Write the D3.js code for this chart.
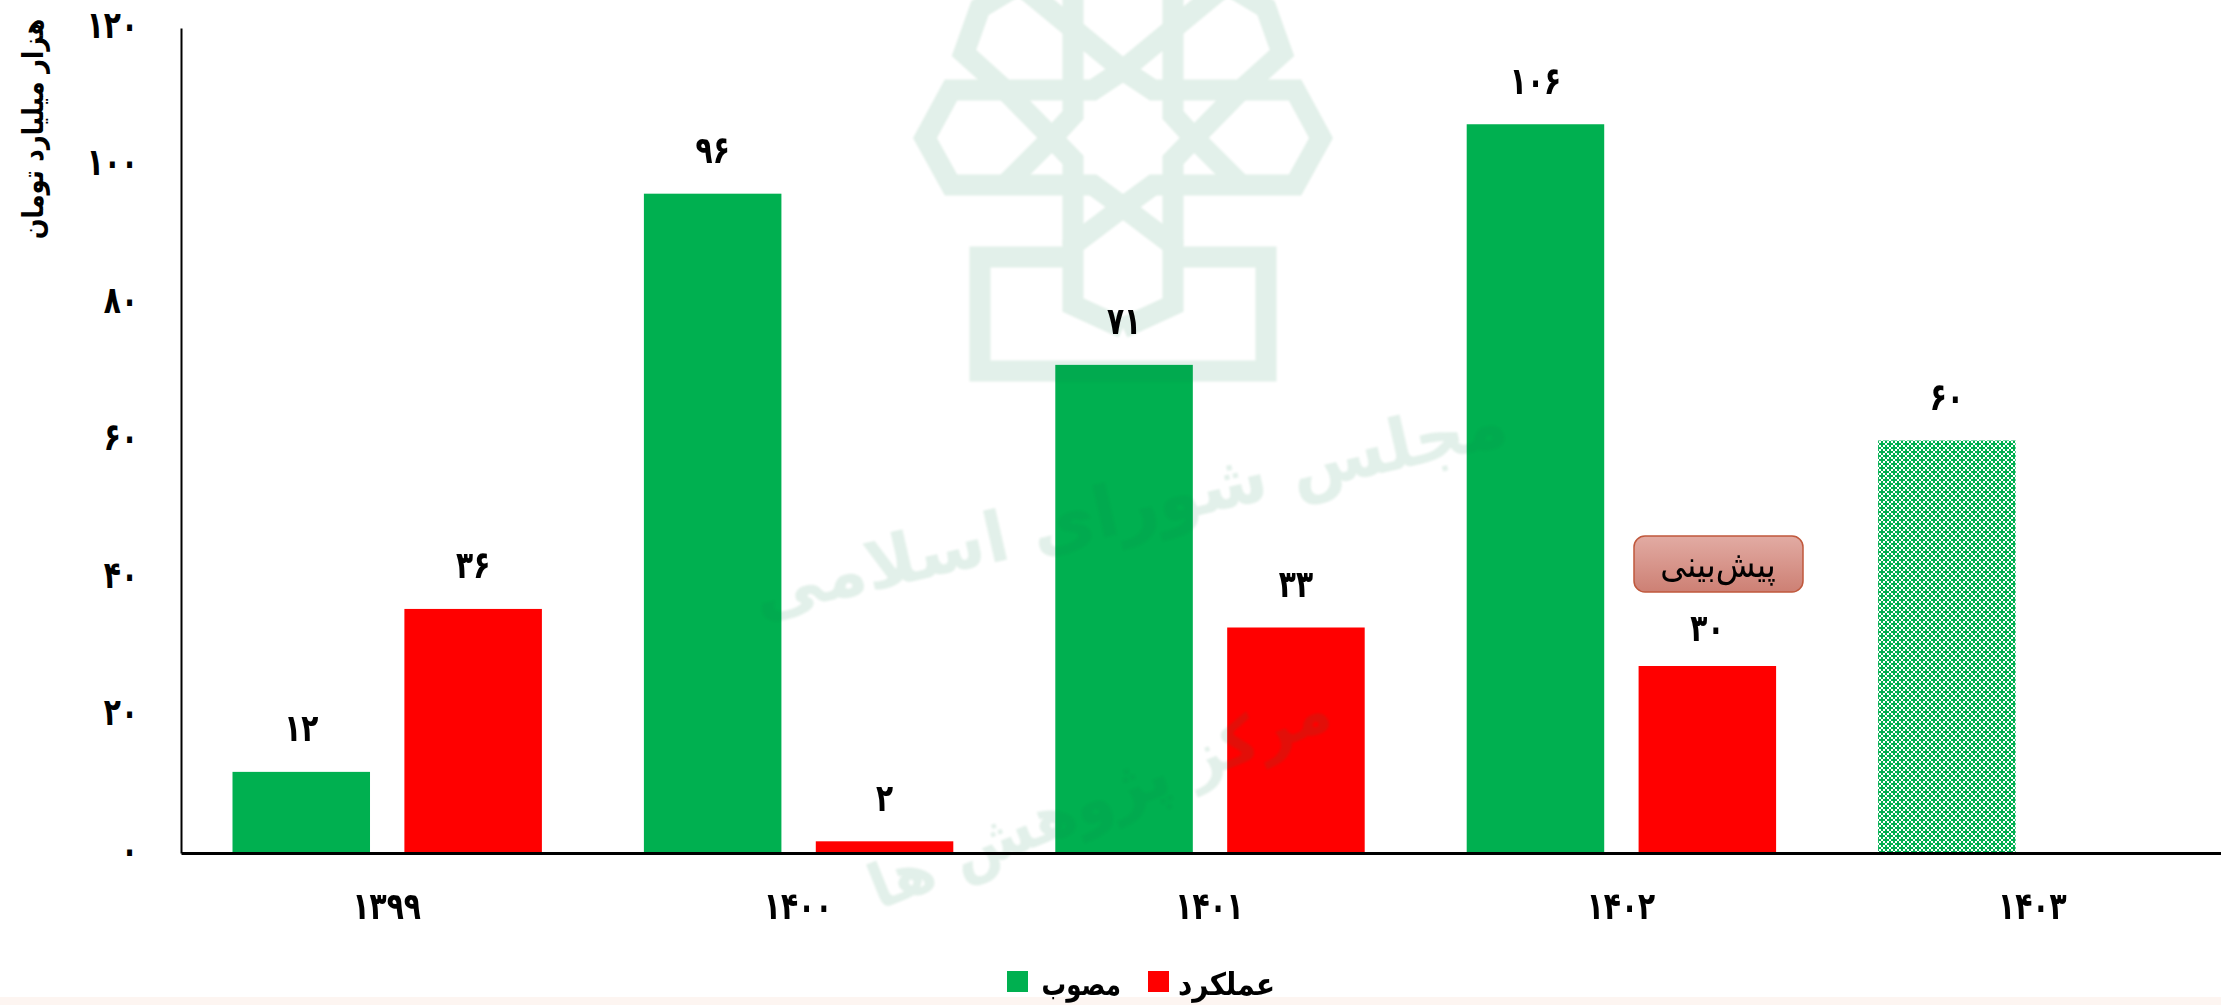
<!DOCTYPE html>
<html>
<head>
<meta charset="utf-8">
<script src="https://cdn.jsdelivr.net/npm/d3@7"></script>
<style>
  body { margin: 0; background: #fff; }
  svg { display: block; }
  text { font-family: "DejaVu Sans Condensed", "DejaVu Sans"; fill: #000; }
</style>
</head>
<body>
<svg id="chart"></svg>
<script>
const years = ["۱۳۹۹", "۱۴۰۰", "۱۴۰۱", "۱۴۰۲", "۱۴۰۳"];
const approved = [11.8, 95.9, 71, 106, 60];
const approvedLabels = ["۱۲", "۹۶", "۷۱", "۱۰۶", "۶۰"];
const actual = [35.5, 1.7, 32.8, 27.2];
const actualLabels = ["۳۶", "۲", "۳۳", "۳۰"];
const yTicks = [0, 20, 40, 60, 80, 100, 120];
const toPersian = n => String(n).replace(/\d/g, d => "۰۱۲۳۴۵۶۷۸۹"[d]);

const width = 2221, height = 1005;
const green = "#00b050", red = "#ff0000";

// the original digits are tall and narrow, squeeze the glyphs to get there
const squeeze = (sel, factor) => sel.each(function () {
    const len = this.getComputedTextLength();
    d3.select(this)
        .attr("textLength", len * factor)
        .attr("lengthAdjust", "spacingAndGlyphs");
});

const svg = d3.select("#chart").attr("width", width).attr("height", height);
const defs = svg.append("defs");

// trellis fill for the forecast bar
const hatch = defs.append("pattern")
    .attr("id", "trellis")
    .attr("patternUnits", "userSpaceOnUse")
    .attr("width", 8).attr("height", 8)
    .attr("x", 1878).attr("y", 440);
hatch.append("rect").attr("width", 8).attr("height", 8).attr("fill", "#fff");
[[0, 0], [4, 4], [8, 0], [0, 8], [8, 8]].forEach(([cx, cy]) => {
    hatch.append("rect").attr("x", cx - 1).attr("y", cy - 3).attr("width", 2).attr("height", 6).attr("fill", green);
    hatch.append("rect").attr("x", cx - 3).attr("y", cy - 1).attr("width", 6).attr("height", 2).attr("fill", green);
});

const boxFill = defs.append("linearGradient")
    .attr("id", "boxFill").attr("x1", 0).attr("y1", 0).attr("x2", 0).attr("y2", 1);
boxFill.append("stop").attr("offset", "0%").attr("stop-color", "#e2aba3");
boxFill.append("stop").attr("offset", "100%").attr("stop-color", "#cd8074");

defs.append("filter").attr("id", "soft")
    .append("feGaussianBlur").attr("stdDeviation", 1);

const x = d3.scaleBand().domain(years).range([181, 2238]).paddingInner(0).paddingOuter(0);
const xInner = d3.scaleBand().domain(["approved", "actual"]).range([51.5, x.bandwidth() - 50.5]).paddingInner(0.2);
const y = d3.scaleLinear().domain([0, 120]).range([853, 28]);

svg.append("rect").attr("x", 0).attr("y", 997).attr("width", width).attr("height", 8).attr("fill", "#fdf5f1");

svg.append("g").selectAll("rect")
    .data(approved)
    .enter()
    .append("rect")
    .attr("x", (d, i) => x(years[i]) + xInner("approved"))
    .attr("y", d => y(d))
    .attr("width", xInner.bandwidth())
    .attr("height", d => y(0) - y(d))
    .attr("fill", (d, i) => i === 4 ? "url(#trellis)" : green);

svg.append("g").selectAll("rect")
    .data(actual)
    .enter()
    .append("rect")
    .attr("x", (d, i) => x(years[i]) + xInner("actual"))
    .attr("y", d => y(d))
    .attr("width", xInner.bandwidth())
    .attr("height", d => y(0) - y(d))
    .attr("fill", red);

// faint emblem and text of the publisher, lies over the bars
const mark = svg.append("g").attr("opacity", 0.12).attr("filter", "url(#soft)");
const emblem = mark.append("g").attr("transform", "translate(1123,0)")
    .attr("fill", "none").attr("stroke", "#0a824d").attr("stroke-width", 21);
const emblemLines = [
    [[-115, -25], [0, 70], [30, 90], [172, 90], [198, 138], [172, 185], [30, 185], [0, 207], [-50, 245], [-50, 305], [0, 328]],
    [[-50, -20], [-50, 115], [-71, 138], [-118, 185]],
    [[-105, -15], [-143, 8], [-159, 53], [-118, 90], [-71, 138], [-50, 160], [-50, 245]]
];
const emblemLine = d3.line();
emblemLines.forEach(pts => {
    emblem.append("path").attr("d", emblemLine(pts));
    emblem.append("path").attr("d", emblemLine(pts.map(p => [-p[0], p[1]])));
});
emblem.append("path").attr("d", emblemLine([[-50, 257], [-143, 257], [-143, 371], [143, 371], [143, 257], [50, 257]]));

mark.append("text")
    .attr("transform", "translate(1135,530) rotate(-13)")
    .attr("text-anchor", "middle")
    .attr("direction", "rtl")
    .style("font-family", "DejaVu Sans")
    .style("font-size", "70px")
    .style("font-weight", "bold")
    .style("fill", "#0a824d")
    .text("مجلس شورای اسلامی");
mark.append("text")
    .attr("transform", "translate(1107,818) rotate(-22)")
    .attr("text-anchor", "middle")
    .attr("direction", "rtl")
    .style("font-family", "DejaVu Sans")
    .style("font-size", "62px")
    .style("font-weight", "bold")
    .style("fill", "#0a824d")
    .text("مرکز پژوهش ها");

const yAxis = svg.append("g")
    .attr("transform", "translate(181,0)")
    .call(d3.axisLeft(y).tickValues(yTicks).tickSize(0).tickPadding(43).tickFormat(toPersian));
yAxis.select(".domain").attr("stroke", "#000").attr("stroke-width", 2);
yAxis.selectAll("text")
    .attr("dy", "0.32em")
    .attr("y", -3)
    .style("font-size", "38px")
    .style("font-weight", "bold")
    .call(squeeze, 0.82);

const xAxis = svg.append("g")
    .attr("transform", `translate(0,${y(0)})`)
    .call(d3.axisBottom(x).tickSize(0));
xAxis.select(".domain").attr("stroke", "#000").attr("stroke-width", 3);
xAxis.selectAll("text")
    .attr("y", 53)
    .attr("dy", "0.35em")
    .style("font-size", "38px")
    .style("font-weight", "bold")
    .call(squeeze, 0.82);

const valueLabel = (values, labels, key) => svg.append("g").selectAll("text")
    .data(values)
    .enter()
    .append("text")
    .attr("x", (d, i) => x(years[i]) + xInner(key) + xInner.bandwidth() / 2)
    .attr("y", (d, i) => y(d) - (key === "actual" && i === 3 ? 38 : 44))
    .attr("dy", "0.35em")
    .attr("text-anchor", "middle")
    .style("font-size", "38px")
    .style("font-weight", "bold")
    .text((d, i) => labels[i])
    .call(squeeze, 0.82);
valueLabel(approved, approvedLabels, "approved");
valueLabel(actual, actualLabels, "actual");

svg.append("text")
    .attr("transform", "translate(33,129) rotate(-90)")
    .attr("text-anchor", "middle")
    .attr("dy", "0.35em")
    .attr("direction", "rtl")
    .style("font-size", "29px")
    .style("font-weight", "bold")
    .text("هزار میلیارد تومان")
    .call(squeeze, 0.93);

// forecast note above the 1402 actual bar
svg.append("rect")
    .attr("x", 1634).attr("y", 536)
    .attr("width", 169).attr("height", 56)
    .attr("rx", 11)
    .attr("fill", "url(#boxFill)")
    .attr("stroke", "#c0583c")
    .attr("stroke-width", 1.5);
svg.append("text")
    .attr("x", 1718).attr("y", 564)
    .attr("dy", "0.35em")
    .attr("text-anchor", "middle")
    .attr("direction", "rtl")
    .style("font-size", "36px")
    .text("پیش‌بینی");

const legendItems = [
    {name: "مصوب", color: green, box: 1007, textEnd: 1121, factor: 0.88},
    {name: "عملکرد", color: red, box: 1148, textEnd: 1275, factor: 1}
];
const legend = svg.append("g").selectAll("g").data(legendItems).enter().append("g");
legend.append("rect")
    .attr("x", d => d.box).attr("y", 971)
    .attr("width", 21).attr("height", 21)
    .attr("fill", d => d.color);
legend.append("text")
    .attr("x", d => d.textEnd).attr("y", 984)
    .attr("dy", "0.35em")
    .attr("text-anchor", "start")
    .attr("direction", "rtl")
    .style("font-size", "31px")
    .style("font-weight", "bold")
    .text(d => d.name)
    .each(function (d) { d3.select(this).call(squeeze, d.factor); });
</script>
</body>
</html>
